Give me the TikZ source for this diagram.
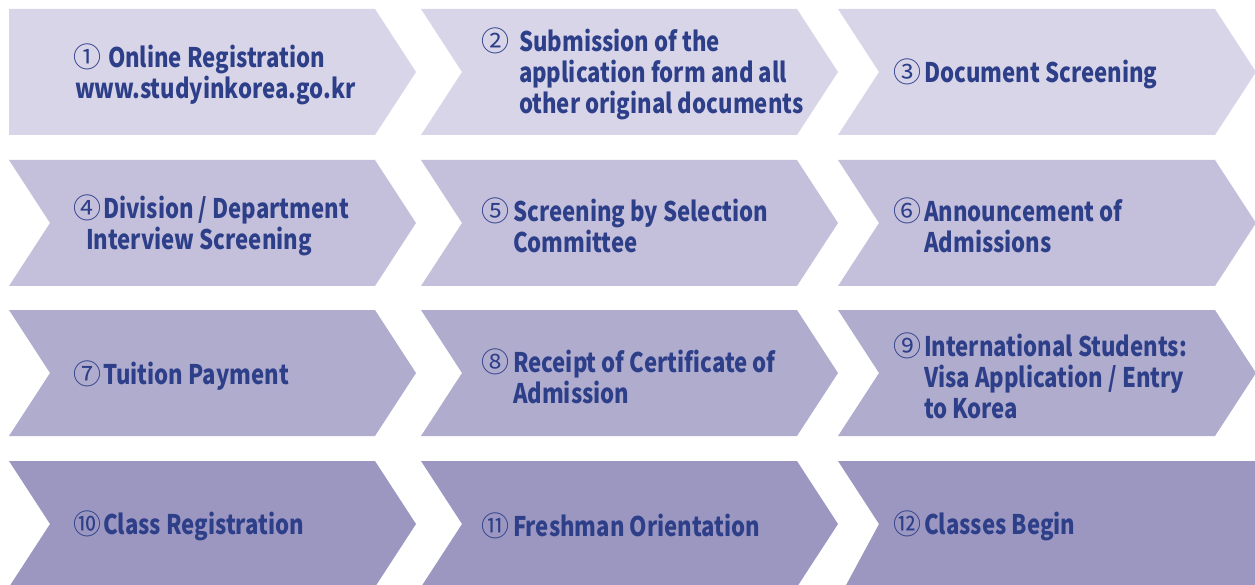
\documentclass[tikz,border=0pt]{standalone}
\usepackage{fontspec}
\setmainfont{Noto Sans CJK KR}[FakeStretch=0.82]
\newfontfamily\numf{Noto Sans CJK KR}
\definecolor{rowA}{HTML}{D8D5E8}
\definecolor{rowB}{HTML}{C4C0DB}
\definecolor{rowC}{HTML}{B0ACCE}
\definecolor{rowD}{HTML}{9C97C1}
\definecolor{txt}{HTML}{2E3F89}
\newcommand\chevpath[3]{(#1,#3)--(#2,#3)--({#2+41},{#3+63})--(#2,{#3+126})--(#1,{#3+126})--({#1+41},{#3+63})--cycle}
\newcommand\nb[2]{\makebox[#1][l]{\hspace*{-2pt}{\numf\mdseries\fontsize{28}{31}\selectfont #2}}}
\tikzset{
  lbl/.style={anchor=west, inner sep=0pt, outer sep=0pt, align=left, text=txt,
    font=\fontsize{27}{31}\selectfont\bfseries}
}
\begin{document}
\begin{tikzpicture}[x=1pt,y=-1pt]
\useasboundingbox (0,0) rectangle (1255,585);
\clip (0,0) rectangle (1255,585);
% row 1
\fill[rowA] (9,9)--(375,9)--(416,72)--(375,135)--(9,135)--cycle;
\fill[rowA] \chevpath{421}{797}{9};
\fill[rowA] \chevpath{838}{1215}{9};
% row 2
\fill[rowB] \chevpath{9}{375}{160};
\fill[rowB] \chevpath{421}{797}{160};
\fill[rowB] \chevpath{838}{1215}{160};
% row 3
\fill[rowC] \chevpath{9}{375}{310};
\fill[rowC] \chevpath{421}{797}{310};
\fill[rowC] \chevpath{838}{1215}{310};
% row 4
\fill[rowD] \chevpath{9}{375}{461};
\fill[rowD] \chevpath{421}{797}{461};
\fill[rowD] (838,461)--(1270,461)--(1270,600)--(838,600)--(879,524)--cycle;
% labels
\node[lbl] (t1) at (75,74) {\nb{33pt}{①}Online Registration\\www.studyinkorea.go.kr};
\node[lbl] (t2) at (483,74) {\nb{36pt}{②}Submission of the\\\hspace*{36pt}application form and all\\\hspace*{36pt}other original documents};
\node[lbl] (t3) at (895,74) {\nb{29pt}{③}Document Screening};
\node[lbl] (t4) at (75,225) {\nb{28pt}{④}Division / Department\\\hspace*{11pt}Interview Screening};
\node[lbl] (t5) at (483,225) {\nb{30pt}{⑤}Screening by Selection\\\hspace*{30pt}Committee};
\node[lbl] (t6) at (895,225) {\nb{29pt}{⑥}Announcement of\\\hspace*{29pt}Admissions};
\node[lbl] (t7) at (75,376) {\nb{28pt}{⑦}Tuition Payment};
\node[lbl] (t8) at (483,376) {\nb{30pt}{⑧}Receipt of Certificate of\\\hspace*{30pt}Admission};
\node[lbl] (t9) at (895,376) {\nb{29pt}{⑨}International Students:\\\hspace*{29pt}Visa Application / Entry\\\hspace*{29pt}to Korea};
\node[lbl] (t10) at (75,526) {\nb{28pt}{⑩}Class Registration};
\node[lbl] (t11) at (483,526) {\nb{30pt}{⑪}Freshman Orientation};
\node[lbl] (t12) at (895,526) {\nb{29pt}{⑫}Classes Begin};
\end{tikzpicture}
\end{document}
